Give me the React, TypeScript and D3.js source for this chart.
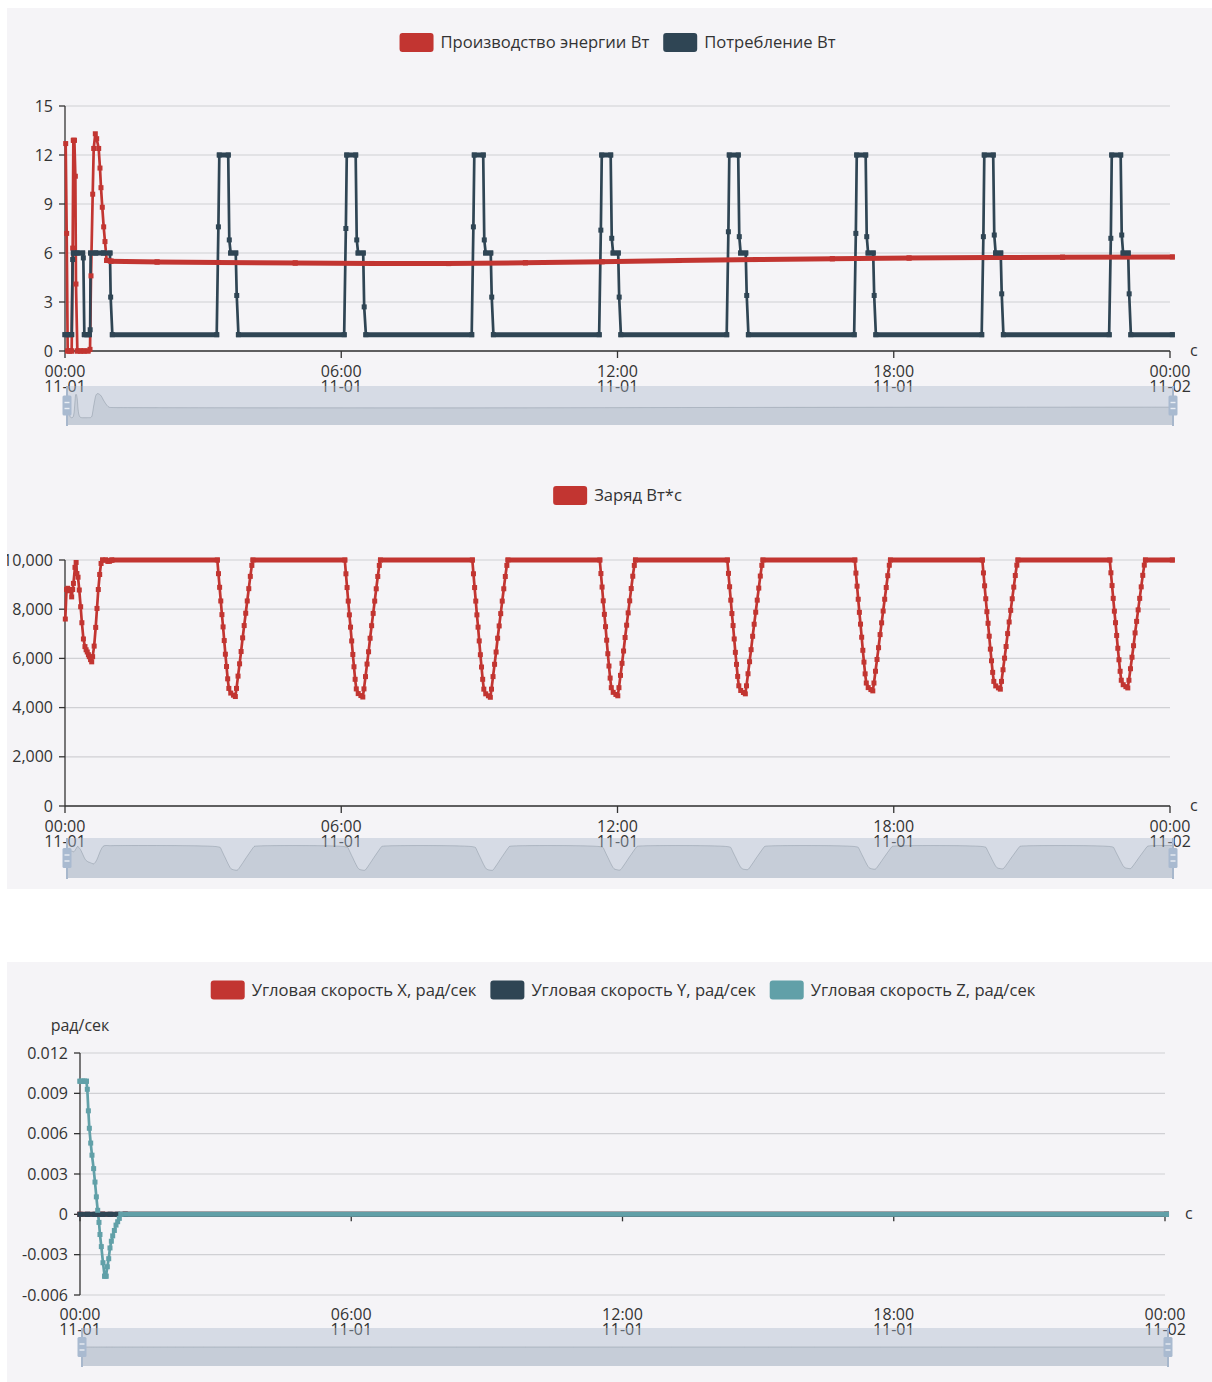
import { useEffect, useRef } from "react";
import * as d3 from "d3";

type Pt = [number, number]; // [minutes since 11-01 00:00, value]

// Производство энергии, Вт
const productionW: Pt[] = [
  [0.9, 12.7], [2.2, 7.2], [3.5, 0], [6, 0], [8.7, 0], [10, 6.3], [10.9, 12.9], [12.2, 12.9],
  [13.5, 10.7], [14.3, 4.1], [16.1, 0], [20, 0], [25, 0], [30, 0], [32.6, 0.1], [33.9, 4.6],
  [36.1, 9.6], [37.4, 12.4], [39.5, 13.3], [41.3, 13.0], [43.9, 12.4], [45.6, 11.2], [46.9, 10.0],
  [48.6, 8.8], [50.4, 7.6], [52.1, 6.7], [54.3, 5.55], [60, 5.5], [120, 5.45], [200, 5.42],
  [300, 5.39], [400, 5.36], [500, 5.35], [600, 5.4], [700, 5.47], [800, 5.54], [900, 5.6],
  [1000, 5.65], [1100, 5.69], [1200, 5.72], [1300, 5.74], [1443, 5.76],
];

// Потребление, Вт
const consumptionW: Pt[] = [
  [0, 1], [4, 1], [8.7, 1], [10, 5.6], [10.9, 6], [16, 6], [23, 6], [23.9, 5.7], [25.2, 1],
  [28.5, 1], [31.7, 1], [32.8, 1.3], [33.4, 6], [40, 6], [50, 6], [58.6, 6], [59.5, 3.3], [61.7, 1],
  [197.7, 1], [199.9, 7.6], [201.1, 12], [212.7, 12], [214.1, 6.8], [215.9, 6], [222.5, 6], [223.8, 3.4], [226, 1],
  [363.8, 1], [366, 7.5], [367.2, 12], [378.8, 12], [380.2, 6.8], [382, 6], [388.6, 6], [389.9, 2.7], [392.1, 1],
  [530, 1], [532.2, 7.6], [533.4, 12], [545, 12], [546.4, 6.8], [548.2, 6], [554.8, 6], [556.1, 3.3], [558.3, 1],
  [696.1, 1], [698.3, 7.4], [699.5, 12], [711.1, 12], [712.5, 6.9], [714.3, 6], [720.9, 6], [722.2, 3.3], [724.4, 1],
  [862.3, 1], [864.5, 7.3], [865.7, 12], [877.3, 12], [878.7, 7.0], [880.5, 6], [887.1, 6], [888.4, 3.4], [890.6, 1],
  [1028.4, 1], [1030.6, 7.2], [1031.8, 12], [1043.4, 12], [1044.8, 7.0], [1046.6, 6], [1053.2, 6], [1054.5, 3.4], [1056.7, 1],
  [1194.6, 1], [1196.8, 7.0], [1198, 12], [1209.6, 12], [1211, 7.1], [1212.8, 6], [1219.4, 6], [1220.7, 3.5], [1222.9, 1],
  [1360.7, 1], [1362.9, 6.9], [1364.1, 12], [1375.7, 12], [1377.1, 7.1], [1378.9, 6], [1385.5, 6], [1386.8, 3.5], [1389, 1],
  [1443, 1],
];

// Заряд, Вт*с
const chargeWs: Pt[] = [
  [0.4, 7600], [2, 8800], [3.5, 8850], [5, 8750], [6.5, 8800], [8.7, 8500], [10, 8800], [11, 9050],
  [13, 9700], [14.5, 9900], [15.5, 9450], [17, 9300], [18.6, 8780], [20.4, 8100], [22, 7450], [24, 6790],
  [26, 6480], [27.5, 6350], [29, 6260], [30.5, 6150], [31.7, 6070], [33.3, 5950], [34.8, 5860], [36, 6070],
  [38, 6500], [40, 7260], [41.7, 8030], [43.4, 8800], [45.2, 9410], [47, 9860], [49, 10000], [53, 10000],
  [56, 9950], [58, 9960], [61, 10000],
  [198.5, 10000], [200, 9445], [201.5, 8890], [203, 8335], [204.5, 7780], [206, 7280], [207.5, 6725], [209, 6170],
  [210.5, 5670], [212, 5170], [213.5, 4780], [216, 4590], [219.5, 4505], [222, 4450], [223.5, 4780], [225.5, 5280],
  [227.5, 5780], [229.5, 6280], [231.5, 6835], [233.5, 7335], [235.5, 7835], [237.5, 8335], [239.5, 8835],
  [241.5, 9335], [243.5, 9780], [245, 10000],
  [364.6, 10000], [366.1, 9440], [367.6, 8880], [369.1, 8330], [370.6, 7770], [372.1, 7270], [373.6, 6710], [375.1, 6160],
  [376.6, 5660], [378.1, 5150], [379.6, 4760], [382.1, 4570], [385.6, 4490], [388.1, 4430], [389.6, 4760], [391.6, 5260],
  [393.6, 5770], [395.6, 6270], [397.6, 6820], [399.6, 7330], [401.6, 7830], [403.6, 8330], [405.6, 8830],
  [407.6, 9330], [409.6, 9780], [411.1, 10000],
  [530.8, 10000], [532.3, 9440], [533.8, 8880], [535.3, 8330], [536.8, 7770], [538.3, 7270], [539.8, 6710], [541.3, 6150],
  [542.8, 5650], [544.3, 5150], [545.8, 4750], [548.3, 4560], [551.8, 4480], [554.3, 4420], [555.8, 4750], [557.8, 5260],
  [559.8, 5760], [561.8, 6260], [563.8, 6820], [565.8, 7320], [567.8, 7820], [569.8, 8330], [571.8, 8830],
  [573.8, 9330], [575.8, 9780], [577.3, 10000],
  [696.9, 10000], [698.4, 9450], [699.9, 8900], [701.4, 8340], [702.9, 7790], [704.4, 7290], [705.9, 6740], [707.4, 6190],
  [708.9, 5690], [710.4, 5200], [711.9, 4810], [714.4, 4620], [717.9, 4535], [720.4, 4480], [721.9, 4810], [723.9, 5310],
  [725.9, 5800], [727.9, 6300], [729.9, 6850], [731.9, 7350], [733.9, 7850], [735.9, 8340], [737.9, 8840],
  [739.9, 9340], [741.9, 9780], [743.4, 10000],
  [863.1, 10000], [864.6, 9456], [866.1, 8912], [867.6, 8368], [869.1, 7824], [870.6, 7334], [872.1, 6790], [873.6, 6246],
  [875.1, 5757], [876.6, 5267], [878.1, 4886], [880.6, 4696], [884.1, 4614], [886.6, 4560], [888.1, 4886], [890.1, 5376],
  [892.1, 5866], [894.1, 6355], [896.1, 6899], [898.1, 7389], [900.1, 7878], [902.1, 8368], [904.1, 8858],
  [906.1, 9347], [908.1, 9782], [909.6, 10000],
  [1029.2, 10000], [1030.7, 9468], [1032.2, 8936], [1033.7, 8404], [1035.2, 7872], [1036.7, 7393], [1038.2, 6861], [1039.7, 6329],
  [1041.2, 5850], [1042.7, 5372], [1044.2, 4999], [1046.7, 4813], [1050.2, 4733], [1052.7, 4680], [1054.2, 4999], [1056.2, 5478],
  [1058.2, 5957], [1060.2, 6436], [1062.2, 6968], [1064.2, 7446], [1066.2, 7925], [1068.2, 8404], [1070.2, 8883],
  [1072.2, 9362], [1074.2, 9787], [1075.7, 10000],
  [1195.4, 10000], [1196.9, 9475], [1198.4, 8950], [1199.9, 8425], [1201.4, 7900], [1202.9, 7427], [1204.4, 6902], [1205.9, 6377],
  [1207.4, 5905], [1208.9, 5432], [1210.4, 5065], [1212.9, 4881], [1216.4, 4802], [1218.9, 4750], [1220.4, 5065], [1222.4, 5538],
  [1224.4, 6010], [1226.4, 6483], [1228.4, 7008], [1230.4, 7480], [1232.4, 7953], [1234.4, 8425], [1236.4, 8898],
  [1238.4, 9370], [1240.4, 9790], [1241.9, 10000],
  [1361.5, 10000], [1363, 9480], [1364.5, 8960], [1366, 8440], [1367.5, 7920], [1369, 7452], [1370.5, 6932], [1372, 6412],
  [1373.5, 5944], [1375, 5476], [1376.5, 5112], [1379, 4930], [1382.5, 4852], [1385, 4800], [1386.5, 5112], [1388.5, 5580],
  [1390.5, 6048], [1392.5, 6516], [1394.5, 7036], [1396.5, 7504], [1398.5, 7972], [1400.5, 8440], [1402.5, 8908],
  [1404.5, 9376], [1406.5, 9792], [1408, 10000],
  [1443, 10000],
];

// Угловые скорости, рад/сек
const angVelX: Pt[] = [[0, 0], [30, 0], [60, 0], [1442, 0]];
const angVelY: Pt[] = [[0, 0], [10, 0], [20, 0], [30, 0], [40, 0], [50, 0], [60, 0], [1442, 0]];
const angVelZ: Pt[] = [
  [0, 0.0099], [3, 0.0099], [6, 0.0099], [8.5, 0.0099], [9.7, 0.0093], [11.1, 0.0077], [12.4, 0.0064],
  [14.2, 0.0053], [15.9, 0.0044], [18.1, 0.0034], [19.9, 0.0024], [21.7, 0.0013], [23.5, 0.0003],
  [25.2, -0.0006], [26.5, -0.0015], [28.3, -0.0024], [30.5, -0.0036], [32.7, -0.0046], [34.5, -0.0046],
  [36.3, -0.0039], [38.1, -0.0033], [39.8, -0.0025], [41.6, -0.002], [43.4, -0.0016], [45.6, -0.0012],
  [47.8, -0.0008], [50, -0.00055], [52.2, -0.0003], [54.4, 0], [1442, 0],
];

const powerTicks = [0, 3, 6, 9, 12, 15];
const chargeTicks = [0, 2000, 4000, 6000, 8000, 10000];
const angTicks = [-0.006, -0.003, 0, 0.003, 0.006, 0.009, 0.012];

const RED = "#c23531";
const DARK = "#2f4554";
const TEAL = "#61a0a8";
const BG = "#f5f4f7";
const TEXT = "#333";
const FONT = "'Open Sans', 'Noto Sans', sans-serif";
const FS = 16;
const LEGEND_FS = 16.6;

const T0 = Date.UTC(2023, 10, 1);
const toDate = (m: number) => new Date(T0 + m * 60000);

const charts = [
  {
    clip: "clipA",
    legendCx: 617.5,
    legendY: 42.5,
    series: [
      { name: "Производство энергии Вт", color: RED, data: productionW },
      { name: "Потребление Вт", color: DARK, data: consumptionW },
    ],
    grid: { left: 65, right: 1170, top: 106, bottom: 351 },
    yDomain: [0, 15],
    yTicks: powerTicks,
    yFormat: (d: number) => String(d),
    onZero: false,
    nameX: 1190,
    labelDy: [26, 41],
    slider: { x0: 67, x1: 1173, y0: 386, y1: 425 },
  },
  {
    clip: "clipA",
    legendCx: 617.5,
    legendY: 495.5,
    series: [{ name: "Заряд Вт*с", color: RED, data: chargeWs }],
    grid: { left: 65, right: 1170, top: 560, bottom: 806 },
    yDomain: [0, 10000],
    yTicks: chargeTicks,
    yFormat: d3.format(","),
    onZero: false,
    nameX: 1190,
    labelDy: [26, 41],
    slider: { x0: 67, x1: 1173, y0: 838, y1: 878 },
  },
  {
    clip: "clipB",
    legendCx: 623,
    legendY: 990,
    series: [
      { name: "Угловая скорость X, рад/сек", color: RED, data: angVelX },
      { name: "Угловая скорость Y, рад/сек", color: DARK, data: angVelY },
      { name: "Угловая скорость Z, рад/сек", color: TEAL, data: angVelZ },
    ],
    grid: { left: 80, right: 1165, top: 1053, bottom: 1295 },
    yDomain: [-0.006, 0.012],
    yTicks: angTicks,
    yFormat: (d: number) => (d === 0 ? "0" : d.toFixed(3)),
    yName: "рад/сек",
    onZero: true,
    nameX: 1185,
    labelDy: [25, 40],
    slider: { x0: 82, x1: 1168, y0: 1328, y1: 1366 },
  },
];

function drawHandle(g: any, hx: number, y0: number, y1: number) {
  const mid = (y0 + y1) / 2;
  g.append("line")
    .attr("x1", hx).attr("x2", hx).attr("y1", y0).attr("y2", y1 + 1)
    .attr("stroke", "#a7b7cc").attr("stroke-width", 2);
  g.append("rect")
    .attr("x", hx - 4.5).attr("y", mid - 10).attr("width", 9).attr("height", 20)
    .attr("rx", 1.5).attr("fill", "#a9bad0");
  [-3, 3].forEach((o) =>
    g.append("line")
      .attr("x1", hx - 2.5).attr("x2", hx + 2.5).attr("y1", mid + o).attr("y2", mid + o)
      .attr("stroke", "#e8edf3").attr("stroke-width", 1.4)
  );
}

function drawChart(root: any, c: any) {
  const g = root.append("g").attr("clip-path", `url(#${c.clip})`);
  const { left, right, top, bottom } = c.grid;
  const x = d3.scaleUtc().domain([toDate(0), toDate(1440)]).range([left, right]);
  const y = d3.scaleLinear().domain(c.yDomain).range([bottom, top]);
  const axisY = c.onZero ? y(0) : bottom;
  const xTicks = x.ticks(d3.utcHour.every(6) as any);

  // split lines
  g.append("g")
    .selectAll("line")
    .data(c.yTicks)
    .join("line")
    .attr("x1", left).attr("x2", right)
    .attr("y1", (d: number) => y(d)).attr("y2", (d: number) => y(d))
    .attr("stroke", "#d0d0d4").attr("stroke-width", 1.2);

  // y axis
  g.append("line")
    .attr("x1", left).attr("x2", left).attr("y1", top).attr("y2", bottom)
    .attr("stroke", TEXT).attr("stroke-width", 1.3);
  g.append("g")
    .selectAll("line")
    .data(c.yTicks)
    .join("line")
    .attr("x1", left - 6).attr("x2", left)
    .attr("y1", (d: number) => y(d)).attr("y2", (d: number) => y(d))
    .attr("stroke", TEXT).attr("stroke-width", 1.3);
  g.append("g")
    .selectAll("text")
    .data(c.yTicks)
    .join("text")
    .attr("x", left - 12)
    .attr("y", (d: number) => y(d))
    .attr("dy", "0.35em")
    .attr("text-anchor", "end")
    .attr("font-size", FS)
    .attr("fill", TEXT)
    .text((d: number) => c.yFormat(d));
  if (c.yName) {
    g.append("text")
      .attr("x", left).attr("y", top - 22)
      .attr("text-anchor", "middle").attr("font-size", FS).attr("fill", TEXT)
      .text(c.yName);
  }

  // x axis
  g.append("line")
    .attr("x1", left).attr("x2", right).attr("y1", axisY).attr("y2", axisY)
    .attr("stroke", TEXT).attr("stroke-width", 1.3);
  g.append("g")
    .selectAll("line")
    .data(xTicks)
    .join("line")
    .attr("x1", (d: Date) => x(d)).attr("x2", (d: Date) => x(d))
    .attr("y1", axisY).attr("y2", axisY + 7)
    .attr("stroke", TEXT).attr("stroke-width", 1.3);
  const fTime = d3.utcFormat("%H:%M");
  const fDay = d3.utcFormat("%m-%d");
  const lbl = g.append("g")
    .selectAll("text")
    .data(xTicks)
    .join("text")
    .attr("text-anchor", "middle")
    .attr("font-size", FS)
    .attr("fill", TEXT);
  lbl.append("tspan")
    .attr("x", (d: Date) => x(d)).attr("y", bottom + c.labelDy[0])
    .text((d: Date) => fTime(d));
  lbl.append("tspan")
    .attr("x", (d: Date) => x(d)).attr("y", bottom + c.labelDy[1])
    .text((d: Date) => fDay(d));
  g.append("text")
    .attr("x", c.nameX).attr("y", axisY).attr("dy", "0.3em")
    .attr("font-size", FS).attr("fill", TEXT)
    .text("c");

  // series: lines first, then symbols
  const px = (d: Pt) => x(toDate(d[0]));
  const line = d3.line<Pt>().x(px).y((d) => y(d[1]));
  c.series.forEach((s: any) => {
    g.append("path")
      .attr("d", line(s.data))
      .attr("fill", "none")
      .attr("stroke", s.color)
      .attr("stroke-width", 2.7)
      .attr("stroke-linejoin", "round");
  });
  c.series.forEach((s: any) => {
    // near-horizontal stretches: the dense symbols merge into a thick band
    const flats = d3.pairs(s.data as Pt[]).filter(([a, b]) => {
      const dx = Math.abs(px(b) - px(a));
      const dy = Math.abs(y(b[1]) - y(a[1]));
      return dy < 0.3 * dx + 0.5;
    });
    g.append("g")
      .selectAll("line")
      .data(flats)
      .join("line")
      .attr("x1", (d: [Pt, Pt]) => px(d[0]) - 2.5)
      .attr("x2", (d: [Pt, Pt]) => px(d[1]) + 2.5)
      .attr("y1", (d: [Pt, Pt]) => y(d[0][1]))
      .attr("y2", (d: [Pt, Pt]) => y(d[1][1]))
      .attr("stroke", s.color)
      .attr("stroke-width", 5);
    g.append("g")
      .selectAll("rect")
      .data(s.data)
      .join("rect")
      .attr("x", (d: Pt) => px(d) - 2.5)
      .attr("y", (d: Pt) => y(d[1]) - 2.5)
      .attr("width", 5)
      .attr("height", 5)
      .attr("fill", s.color);
  });

  // legend
  const lg = g.append("g");
  const widths = c.series.map((s: any) => {
    const t = lg.append("text").attr("font-size", LEGEND_FS).text(s.name);
    const w = (t.node() as SVGTextElement).getComputedTextLength();
    t.remove();
    return w;
  });
  const total = d3.sum(widths, (w: number) => 34 + 7 + w) + 14 * (widths.length - 1);
  let lx = c.legendCx - total / 2;
  c.series.forEach((s: any, i: number) => {
    lg.append("rect")
      .attr("x", lx).attr("y", c.legendY - 9.5).attr("width", 34).attr("height", 19)
      .attr("rx", 3).attr("fill", s.color);
    lg.append("text")
      .attr("x", lx + 41).attr("y", c.legendY).attr("dy", "0.35em")
      .attr("font-size", LEGEND_FS).attr("fill", TEXT).text(s.name);
    lx += 34 + 7 + widths[i] + 14;
  });

  // data zoom slider with data shadow of the first series
  const sl = c.slider;
  const sg = g.append("g");
  const sx = d3.scaleUtc().domain([toDate(0), toDate(1440)]).range([sl.x0, sl.x1]).clamp(true);
  const shadow = c.series[0].data as Pt[];
  const [lo, hi] = d3.extent(shadow, (d) => d[1]) as [number, number];
  const pad = (hi - lo) * 0.3;
  const sy =
    hi === lo
      ? () => (sl.y0 + sl.y1) / 2
      : d3.scaleLinear().domain([lo - pad, hi + pad]).range([sl.y1, sl.y0]);
  sg.append("rect")
    .attr("x", sl.x0).attr("y", sl.y0).attr("width", sl.x1 - sl.x0).attr("height", sl.y1 - sl.y0)
    .attr("fill", "rgba(167,183,203,0.4)");
  const area = d3.area<Pt>()
    .x((d) => sx(toDate(d[0])))
    .y0(sl.y1)
    .y1((d) => sy(d[1]))
    .curve(d3.curveBasis);
  sg.append("path").attr("d", area(shadow)).attr("fill", "rgba(47,69,84,0.09)");
  sg.append("path")
    .attr("d", area.lineY1()(shadow))
    .attr("fill", "none")
    .attr("stroke", "rgba(47,69,84,0.3)")
    .attr("stroke-width", 0.7);
  drawHandle(sg, sl.x0, sl.y0, sl.y1);
  drawHandle(sg, sl.x1, sl.y0, sl.y1);
}

export default function App() {
  const ref = useRef<SVGSVGElement>(null);

  useEffect(() => {
    const svg = d3.select(ref.current);
    svg.selectAll("*").remove();
    const defs = svg.append("defs");
    defs.append("clipPath").attr("id", "clipA")
      .append("rect").attr("x", 7).attr("y", 8).attr("width", 1205).attr("height", 881);
    defs.append("clipPath").attr("id", "clipB")
      .append("rect").attr("x", 7).attr("y", 962).attr("width", 1205).attr("height", 420);
    svg.append("rect").attr("x", 7).attr("y", 8).attr("width", 1205).attr("height", 881).attr("fill", BG);
    svg.append("rect").attr("x", 7).attr("y", 962).attr("width", 1205).attr("height", 420).attr("fill", BG);
    charts.forEach((c) => drawChart(svg, c));
  }, []);

  return (
    <svg
      ref={ref}
      width={1212}
      height={1382}
      style={{ position: "absolute", left: 0, top: 0, fontFamily: FONT, background: "#fff" }}
    />
  );
}
